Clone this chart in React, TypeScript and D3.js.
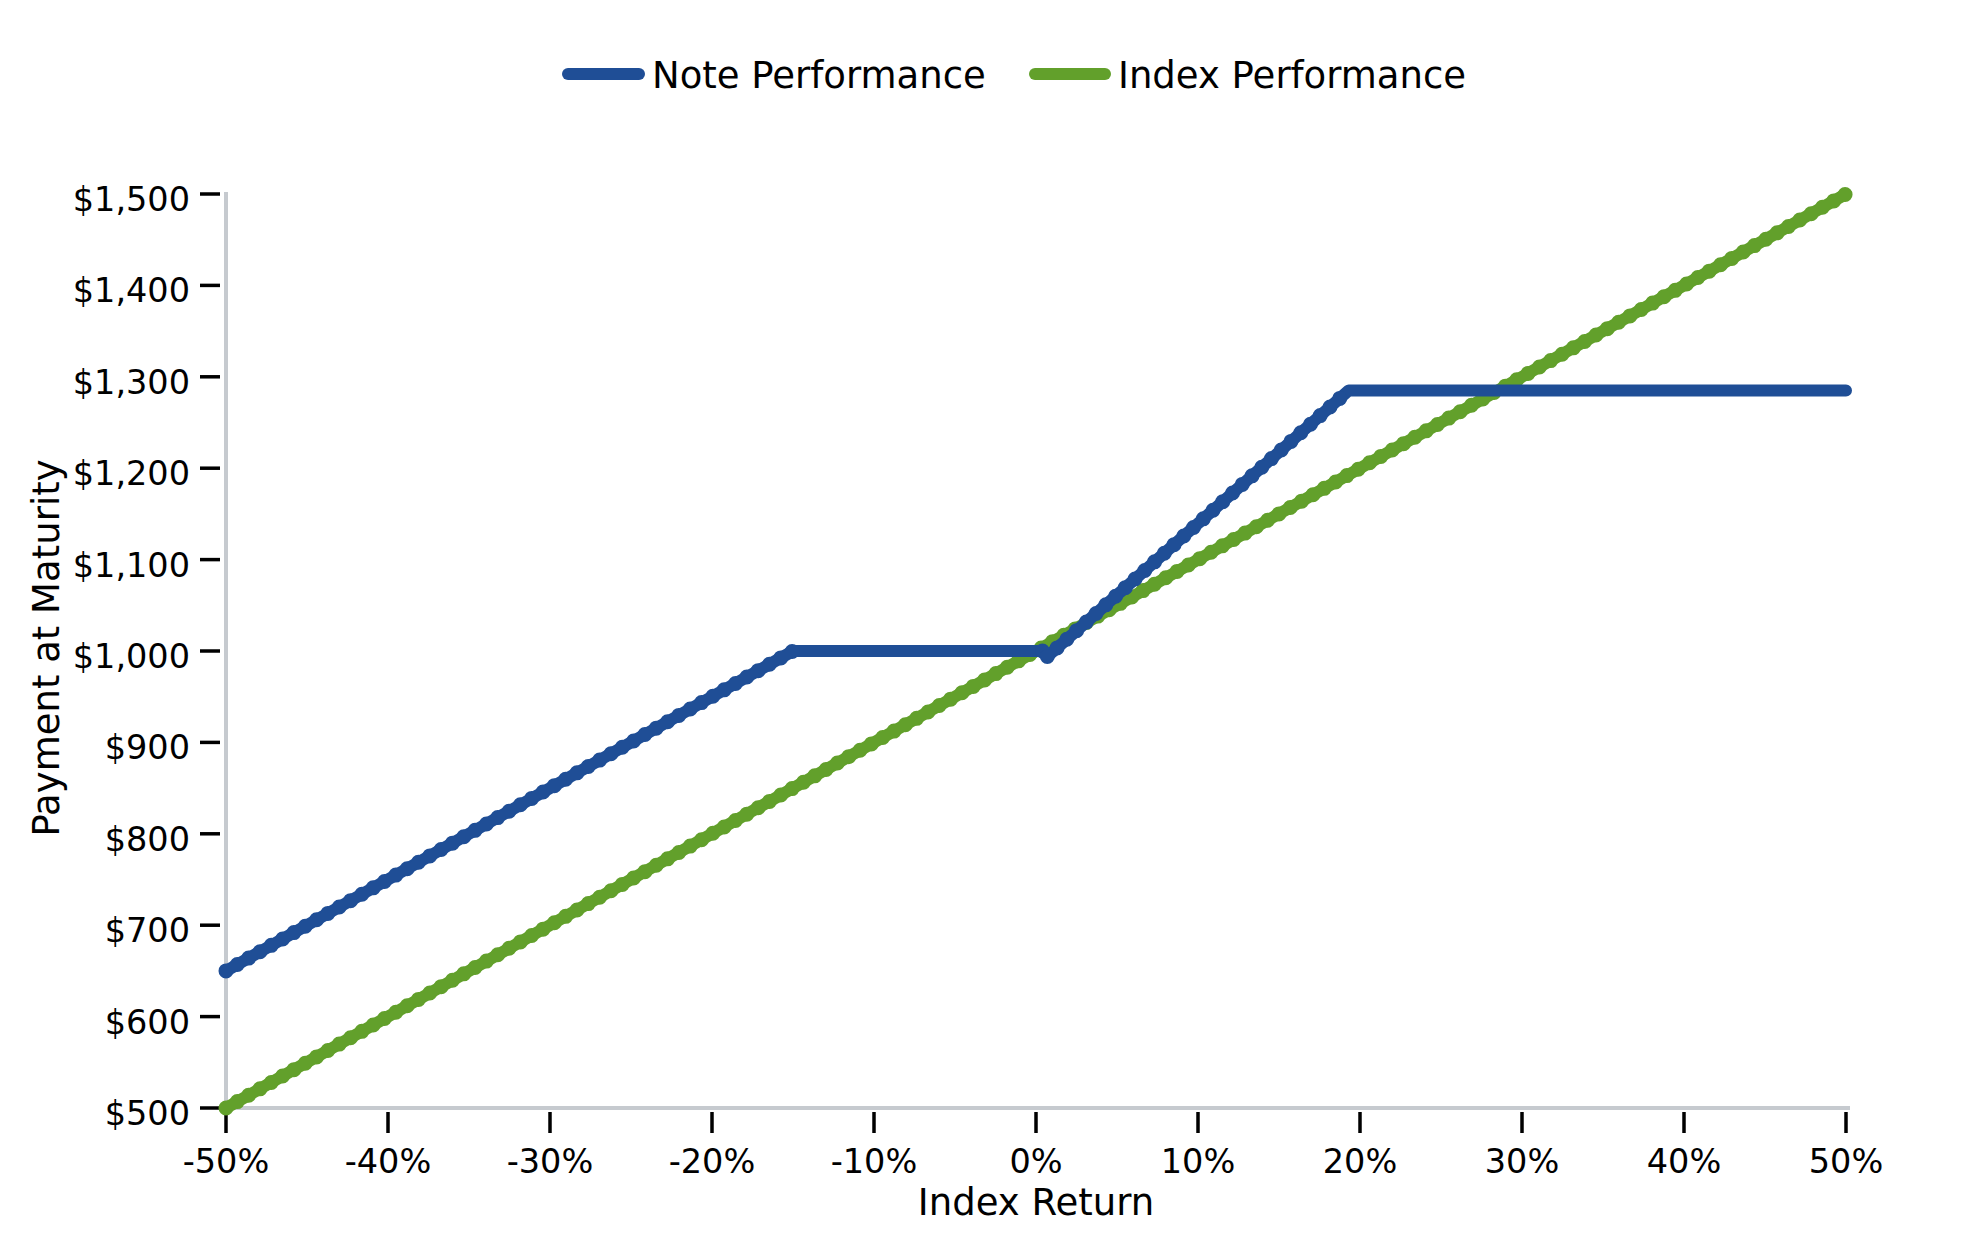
import React, { useEffect } from 'react';
import * as d3 from 'd3';

// Index return (%) vs payment at maturity ($)
const indexReturns = [-50, 50];
const indexValues = [500, 1500];

const noteReturns = [-50, -15, 0.4, 0.7, 19.3, 50];
const noteValues = [650, 1000, 1000, 994, 1285, 1285];

const xTicks = [-50, -40, -30, -20, -10, 0, 10, 20, 30, 40, 50];
const yTicks = [500, 600, 700, 800, 900, 1000, 1100, 1200, 1300, 1400, 1500];

const seriesNames = ['Note Performance', 'Index Performance'];
const seriesColors = ['#1f4e96', '#62a02b'];

const W = 1979;
const H = 1250;
const FONT = '"DejaVu Sans", sans-serif';
const AXIS_GREY = '#c6cacf';

const App: React.FC = () => {
    useEffect(() => {
        document.body.style.margin = '0';
    }, []);

    const x = d3.scaleLinear().domain([-50, 50]).range([226, 1846]);
    const y = d3.scaleLinear().domain([500, 1500]).range([1108, 194]);

    const line = d3.line<[number, number]>()
        .x(d => x(d[0]))
        .y(d => y(d[1]));

    const noteData = noteReturns.map((r, i) => [r, noteValues[i]] as [number, number]);
    const indexData = indexReturns.map((r, i) => [r, indexValues[i]] as [number, number]);

    const pctFmt = (v: number) => `${v}%`;
    const dollarFmt = (v: number) => '$' + d3.format(',')(v);

    const drawSeries = (data: [number, number][], color: string, key: string) => {
        // sloped segments carry the marker "bead" texture, flat ones are smooth
        const sloped = d3.pairs(data).filter(([a, b]) => a[1] !== b[1]);
        return (
            <g key={key}>
                <path d={line(data) || ''} fill="none" stroke={color} strokeWidth={12}
                    strokeLinecap="round" strokeLinejoin="round" />
                {sloped.map((seg, i) => (
                    <path key={i} d={line(seg) || ''} fill="none" stroke={color} strokeWidth={15}
                        strokeLinecap="round" strokeDasharray="0 13" />
                ))}
            </g>
        );
    };

    return (
        <div style={{ position: 'absolute', left: 0, top: 0 }}>
            <svg width={W} height={H} style={{ display: 'block', background: '#fff' }} fontFamily={FONT}>
                {/* legend */}
                <g>
                    <line x1={568} x2={639} y1={74} y2={74} stroke={seriesColors[0]} strokeWidth={12} strokeLinecap="round" />
                    <text x={652} y={88} fontSize={37} fill="#000">{seriesNames[0]}</text>
                    <line x1={1035} x2={1105} y1={74} y2={74} stroke={seriesColors[1]} strokeWidth={12} strokeLinecap="round" />
                    <text x={1118} y={88} fontSize={37} fill="#000">{seriesNames[1]}</text>
                </g>

                {/* axis spines */}
                <line x1={226} x2={226} y1={192} y2={1110} stroke={AXIS_GREY} strokeWidth={4} />
                <line x1={224} x2={1850} y1={1108} y2={1108} stroke={AXIS_GREY} strokeWidth={4} />

                {/* y ticks */}
                {yTicks.map(t => (
                    <g key={'y' + t}>
                        <line x1={200} x2={220} y1={y(t)} y2={y(t)} stroke="#000" strokeWidth={3.5} />
                        <text x={190} y={y(t) + 17} fontSize={33.5} textAnchor="end" fill="#000">{dollarFmt(t)}</text>
                    </g>
                ))}

                {/* x ticks */}
                {xTicks.map(t => (
                    <g key={'x' + t}>
                        <line x1={x(t)} x2={x(t)} y1={1112} y2={1133} stroke="#000" strokeWidth={3.5} />
                        <text x={x(t)} y={1173} fontSize={33.5} textAnchor="middle" fill="#000">{pctFmt(t)}</text>
                    </g>
                ))}

                {/* axis labels */}
                <text x={1036} y={1215} fontSize={37} textAnchor="middle" fill="#000">Index Return</text>
                <text transform="translate(59,648) rotate(-90)" fontSize={37} textAnchor="middle" fill="#000">Payment at Maturity</text>

                {/* series */}
                {drawSeries(indexData, seriesColors[1], 'index')}
                {drawSeries(noteData, seriesColors[0], 'note')}
            </svg>
        </div>
    );
};

export default App;
